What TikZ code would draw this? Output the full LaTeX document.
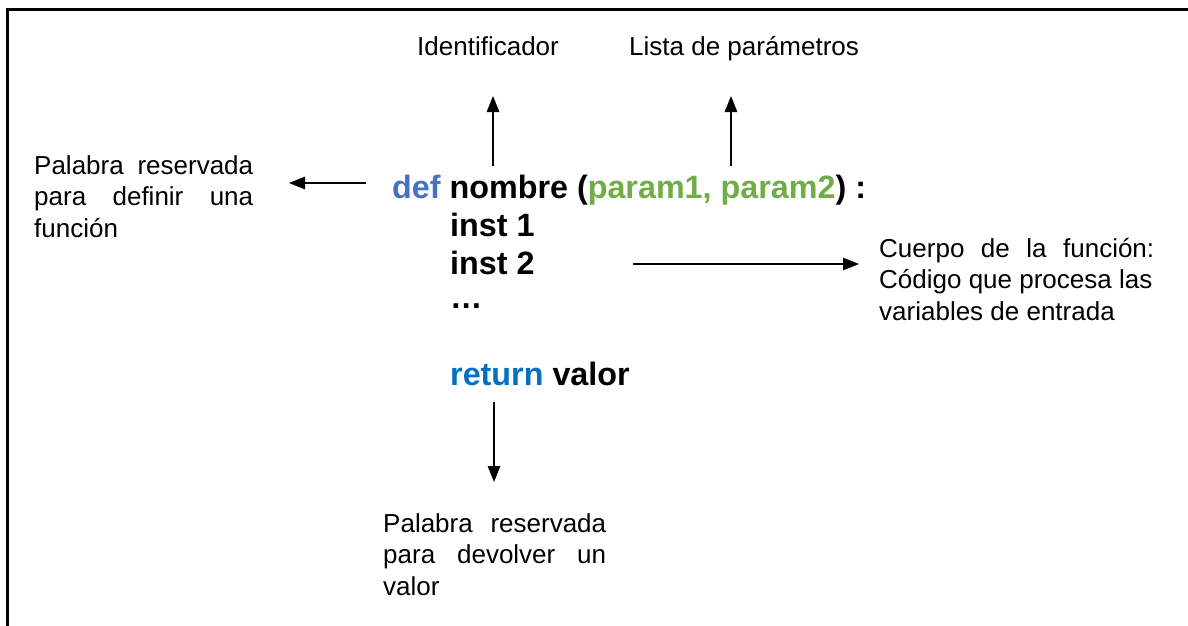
\documentclass[tikz,border=0pt]{standalone}
\usepackage{fontspec}
\setmainfont{Liberation Sans}
\usetikzlibrary{arrows.meta}
\definecolor{defblue}{RGB}{68,114,196}
\definecolor{retblue}{RGB}{0,112,192}
\definecolor{pgreen}{RGB}{112,173,71}
\newcommand{\jl}[2]{\hbox to #1{#2}}
\begin{document}
\begin{tikzpicture}[x=1pt,y=-1pt,
  lbl/.style={font=\fontsize{26}{31.5}\selectfont, inner sep=0pt, align=left},
  code/.style={font=\fontsize{32.3}{38}\selectfont\bfseries, inner sep=0pt, anchor=base west},
  arr/.style={line width=1.4pt, -{Triangle[length=16pt,width=12.5pt]}}]
\useasboundingbox (0,0) rectangle (1188,625);
\draw[line width=3pt] (7,627) -- (7,9) -- (1190,9);

% code
\node[code] (l1) at (392,198) {{\color{defblue}def} nombre ({\color{pgreen}param1, param2}) :};
\node[code] (l2) at (450,236) {inst 1};
\node[code] (l3) at (450,274) {inst 2};
\node[code] (l4) at (450,308) {\ldots};
\node[code] (l5) at (450,385) {{\color{retblue}return} valor};

% labels
\node[lbl, anchor=base west] (ident) at (417,55) {Identificador};
\node[lbl, anchor=base west] (lista) at (629,55) {Lista de parámetros};
\node[lbl, anchor=north west] (pdef) at (34,155) {\jl{219pt}{Palabra\hfill reservada}\\\jl{219pt}{para\hfill definir\hfill una}\\función};
\node[lbl, anchor=north west] (cuerpo) at (879,238) {\jl{275pt}{Cuerpo\hfill de\hfill la\hfill función:}\\Código que procesa las\\variables de entrada};
\node[lbl, anchor=north west] (pret) at (383,513) {\jl{223pt}{Palabra\hfill reservada}\\\jl{223pt}{para\hfill devolver\hfill un}\\valor};

% arrow ends
\coordinate (a1s) at (493,166); \coordinate (a1e) at (493,96);
\coordinate (a2s) at (731,166); \coordinate (a2e) at (731,96);
\coordinate (a3s) at (366,183); \coordinate (a3e) at (289,183);
\coordinate (a4s) at (633,264); \coordinate (a4e) at (859,264);
\coordinate (a5s) at (494,402); \coordinate (a5e) at (494,482);

\draw[arr] (a1s) -- (a1e);
\draw[arr] (a2s) -- (a2e);
\draw[arr] (a3s) -- (a3e);
\draw[arr] (a4s) -- (a4e);
\draw[arr] (a5s) -- (a5e);
\end{tikzpicture}
\end{document}
